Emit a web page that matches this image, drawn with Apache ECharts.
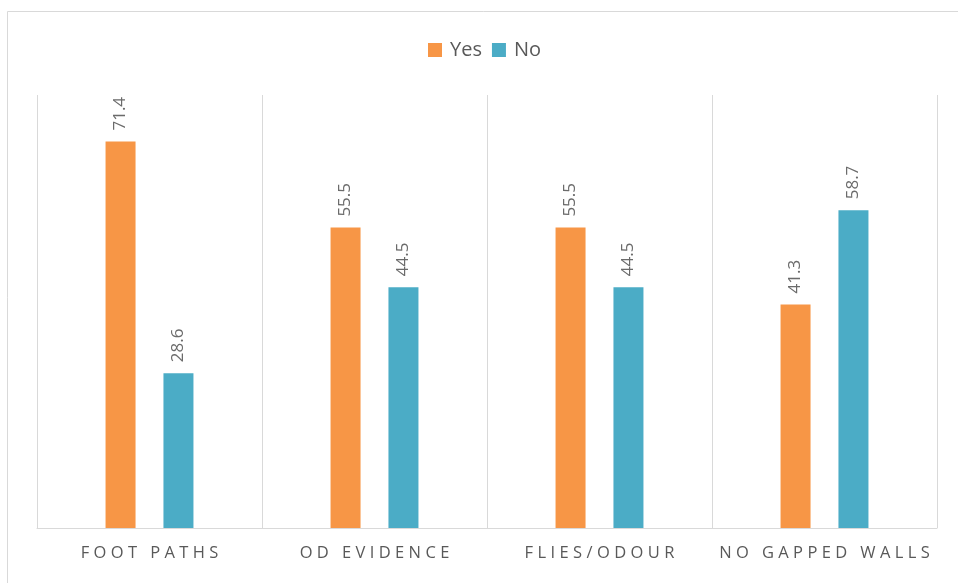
<!DOCTYPE html>
<html>
<head>
<meta charset="utf-8">
<title>Survey indicators</title>
<script src="https://cdn.jsdelivr.net/npm/echarts@6/dist/echarts.min.js"></script>
<style>
  html, body { margin: 0; padding: 0; background: #ffffff; }
  #chart { width: 958px; height: 583px; }
</style>
</head>
<body>
<div id="chart"></div>
<script>
// Indicator categories along the x axis
const categories = ['FOOT PATHS', 'OD EVIDENCE', 'FLIES/ODOUR', 'NO GAPPED WALLS'];
// Percentages per answer
const yesValues = [71.4, 55.5, 55.5, 41.3];
const noValues = [28.6, 44.5, 44.5, 58.7];
const seriesNames = ['Yes', 'No'];

const FONT = "'Open Sans', 'Liberation Sans', sans-serif";
const TEXT_GREY = '#595959';
const LINE_GREY = '#d9d9d9';

// Spread the capitals apart like tracked-out axis text
function tracked(s) {
  return s.split('').join('\u2009\u200A');
}

const valueLabel = {
  show: true,
  position: 'top',
  rotate: 90,
  align: 'left',
  verticalAlign: 'middle',
  distance: 11,
  color: '#6b6b6b',
  fontFamily: FONT,
  fontSize: 17
};

const chart = echarts.init(document.getElementById('chart'), null, { renderer: 'canvas' });

chart.setOption({
  animation: false,
  backgroundColor: '#ffffff',
  color: ['#F79646', '#4BACC6'],
  graphic: [{
    type: 'rect',
    shape: { x: 7.5, y: 11.5, width: 970, height: 600 },
    style: { fill: 'none', stroke: LINE_GREY, lineWidth: 1 },
    silent: true,
    z: -10
  }],
  legend: {
    data: seriesNames,
    top: 35,
    left: 423,
    itemWidth: 14,
    itemHeight: 14,
    itemGap: 10,
    icon: 'rect',
    textStyle: {
      color: TEXT_GREY,
      fontFamily: FONT,
      fontSize: 20,
      padding: [0, 0, 0, 3]
    }
  },
  grid: {
    left: 37,
    right: 21,
    top: 95,
    bottom: 55,
    containLabel: false
  },
  xAxis: {
    type: 'category',
    data: categories,
    boundaryGap: true,
    axisLine: { show: true, lineStyle: { color: LINE_GREY, width: 1 } },
    axisTick: { show: false },
    splitLine: { show: true, interval: 0, lineStyle: { color: LINE_GREY, width: 1 } },
    axisLabel: {
      interval: 0,
      margin: 17,
      color: TEXT_GREY,
      fontFamily: FONT,
      fontSize: 16.5,
      formatter: tracked
    }
  },
  yAxis: {
    type: 'value',
    min: 0,
    max: 80,
    show: false,
    splitLine: { show: false }
  },
  series: [
    {
      name: seriesNames[0],
      type: 'bar',
      data: yesValues,
      barWidth: 30,
      barGap: '93%',
      label: valueLabel
    },
    {
      name: seriesNames[1],
      type: 'bar',
      data: noValues,
      barWidth: 30,
      barGap: '93%',
      label: valueLabel
    }
  ]
});
</script>
</body>
</html>
